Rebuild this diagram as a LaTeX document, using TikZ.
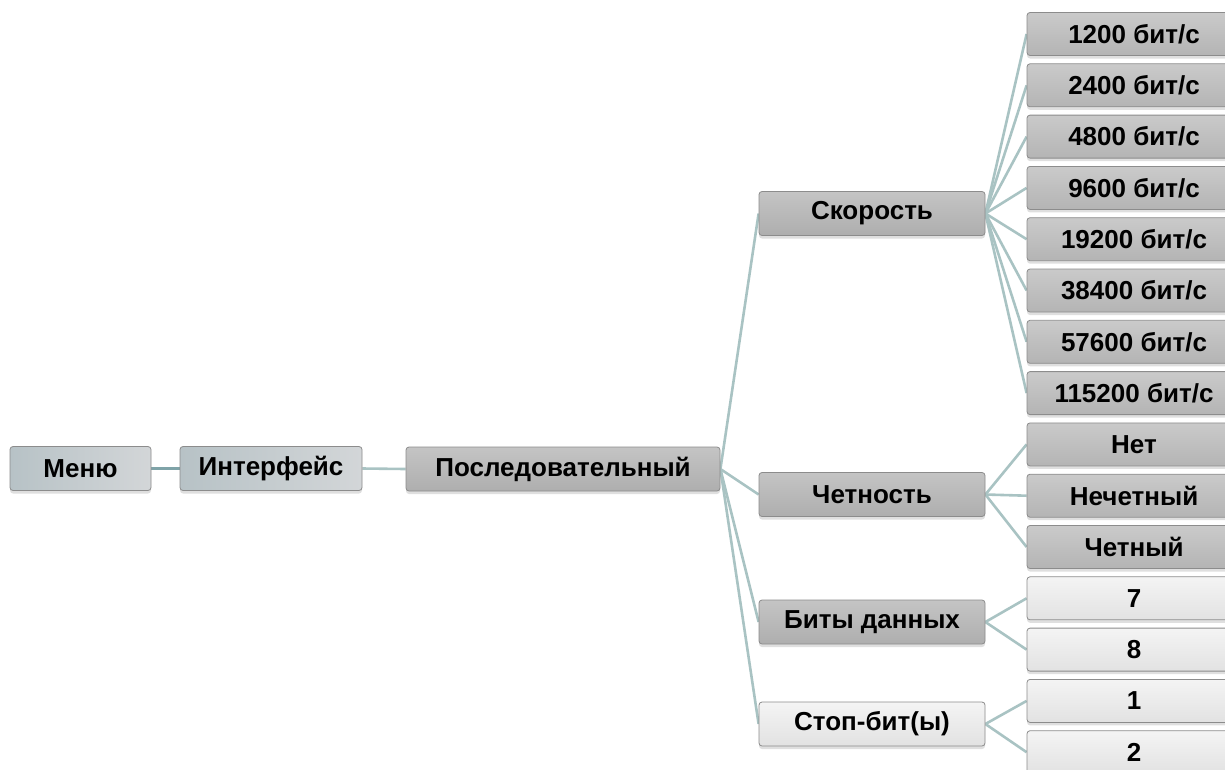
\documentclass[tikz,border=0pt]{standalone}
\usepackage{fontspec}
\setmainfont{Liberation Sans}
\usetikzlibrary{shadows,backgrounds}
\definecolor{edgecol}{HTML}{A9C3C3}
\definecolor{edgeblue}{HTML}{7FA3A8}
\definecolor{boxline}{HTML}{8C8C8C}
\definecolor{bluea}{HTML}{B7C2C6}
\definecolor{blueb}{HTML}{D3D6D8}
\definecolor{graya}{HTML}{C4C4C4}
\definecolor{grayb}{HTML}{AEAEAE}
\definecolor{leafa}{HTML}{CACACA}
\definecolor{leafb}{HTML}{B4B4B4}
\definecolor{lighta}{HTML}{F4F4F4}
\definecolor{lightb}{HTML}{E2E2E2}
\tikzset{
  box/.style={draw=boxline, line width=0.8pt, rounded corners=3pt, minimum height=44pt,
    inner sep=0pt, font=\fontsize{26}{30}\selectfont\bfseries, text=black,
    drop shadow={opacity=0.25, shadow xshift=0pt, shadow yshift=-3pt}},
  bluebox/.style={box, left color=bluea, right color=blueb},
  graybox/.style={box, top color=graya, bottom color=grayb},
  leafbox/.style={box, top color=leafa, bottom color=leafb, minimum width=214pt, minimum height=43pt},
  lightbox/.style={box, top color=lighta, bottom color=lightb},
  lightleaf/.style={lightbox, minimum width=214pt, minimum height=43pt},
  conn/.style={draw=edgecol, line width=2.6pt},
  connb/.style={draw=edgeblue, line width=2.6pt},
}
\begin{document}
\begin{tikzpicture}[x=1pt,y=-1pt]
\useasboundingbox (0,0) rectangle (1225,769);
\clip (0,0) rectangle (1225,769);
\node[bluebox, minimum width=141pt] (menu) at (80.5,468.5) {Меню};
\node[bluebox, minimum width=182pt] (iface) at (271,468.5) {Интерфейс};
\node[graybox, minimum width=314pt] (serial) at (563,469) {Последовательный};
\node[graybox, minimum width=226pt] (speed) at (872,213.5) {Скорость};
\node[graybox, minimum width=226pt] (parity) at (872,494.5) {Четность};
\node[graybox, minimum width=226pt] (dbits) at (872,622) {Биты данных};
\node[lightbox, minimum width=226pt] (sbits) at (872,724) {Стоп-бит(ы)};
\foreach \i/\t in {0/1200,1/2400,2/4800,3/9600,4/19200,5/38400,6/57600,7/115200}{
  \node[leafbox] (s\i) at (1134,34+51.3*\i) {\t{} бит/с};
}
\node[leafbox] (p0) at (1134,34+51.3*8) {Нет};
\node[leafbox] (p1) at (1134,34+51.3*9) {Нечетный};
\node[leafbox] (p2) at (1134,34+51.3*10) {Четный};
\node[lightleaf] (d0) at (1134,34+51.3*11) {7};
\node[lightleaf] (d1) at (1134,34+51.3*12) {8};
\node[lightleaf] (b0) at (1134,34+51.3*13) {1};
\node[lightleaf] (b1) at (1134,34+51.3*14) {2};
\begin{pgfonlayer}{background}
\draw[connb] (menu.east) -- (iface.west);
\draw[conn] (iface.east) -- (serial.west);
\foreach \c in {speed,parity,dbits,sbits} \draw[conn] (serial.east) -- (\c.west);
\foreach \i in {0,...,7} \draw[conn] (speed.east) -- (s\i.west);
\foreach \i in {0,1,2} \draw[conn] (parity.east) -- (p\i.west);
\foreach \i in {0,1} \draw[conn] (dbits.east) -- (d\i.west);
\foreach \i in {0,1} \draw[conn] (sbits.east) -- (b\i.west);
\end{pgfonlayer}
\end{tikzpicture}
\end{document}
